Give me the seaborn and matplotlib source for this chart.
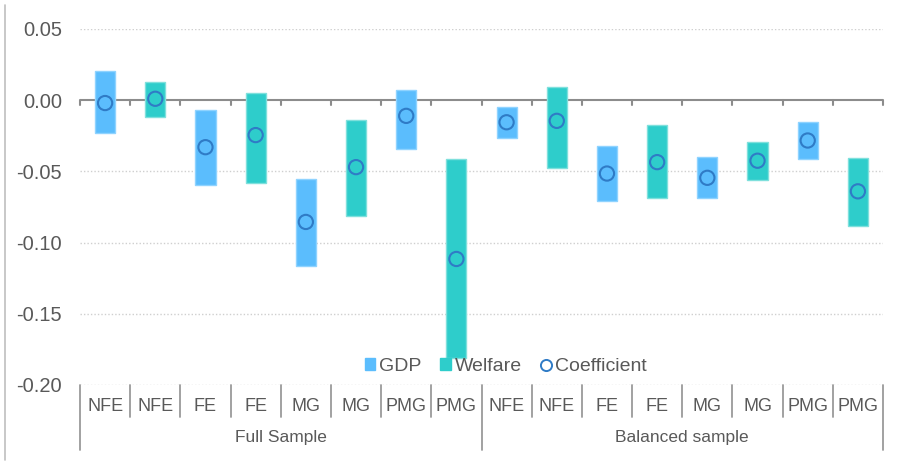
import numpy as np
import pandas as pd
import matplotlib.pyplot as plt
import matplotlib.patches as mpatches
from matplotlib.lines import Line2D
import seaborn as sns

# model labels along the axis, two groups of eight
models = ['NFE', 'NFE', 'FE', 'FE', 'MG', 'MG', 'PMG', 'PMG'] * 2
groups = ['Full Sample', 'Balanced sample']
series = ['GDP', 'Welfare'] * 8

# confidence interval bounds and point estimates
upper = [0.0204, 0.0127, -0.0070, 0.0050, -0.0550, -0.0140, 0.0070, -0.0415,
         -0.0045, 0.0090, -0.0320, -0.0177, -0.0400, -0.0293, -0.0155, -0.0408]
lower = [-0.0232, -0.0116, -0.0597, -0.0580, -0.1165, -0.0810, -0.0340, -0.1810,
         -0.0265, -0.0475, -0.0710, -0.0690, -0.0685, -0.0557, -0.0415, -0.0880]
coef = [-0.0020, 0.0010, -0.0330, -0.0245, -0.0855, -0.0470, -0.0110, -0.1115,
        -0.0155, -0.0145, -0.0515, -0.0435, -0.0545, -0.0425, -0.0283, -0.0640]

yticks = [0.05, 0.00, -0.05, -0.10, -0.15, -0.20]

colors = {'GDP': '#5BBDFD', 'Welfare': '#2ECDCB'}
edge_colors = {'GDP': '#8FD3FF', 'Welfare': '#7FE0DC'}
txt_color = '#595959'

sns.set_style('white')
plt.rcParams['font.family'] = ['Liberation Sans', 'DejaVu Sans']

df = pd.DataFrame({'x': np.arange(len(models)), 'model': models, 'series': series,
                   'upper': upper, 'lower': lower, 'coef': coef})

fig = plt.figure(figsize=(8.99, 4.62), dpi=100)
ax = fig.add_axes([80 / 899, 1 - 385 / 462, 803 / 899, (385 - 29) / 462])

# floating bars for the intervals
ax.bar(df['x'], df['upper'] - df['lower'], bottom=df['lower'], width=0.4,
       color=[colors[s] for s in df['series']],
       edgecolor=[edge_colors[s] for s in df['series']], linewidth=1, zorder=3)

# point estimates
sns.scatterplot(data=df, x='x', y='coef', ax=ax, marker='o', s=105,
                facecolor='none', edgecolor='#2F7BC6', linewidth=1.5, zorder=4,
                legend=False)

ax.set_xlim(-0.5, len(models) - 0.5)
ax.set_ylim(-0.2, 0.05)
ax.set_yticks(yticks)
ax.set_yticklabels([f'{t:.2f}' for t in yticks], fontsize=14.5, color=txt_color)
ax.tick_params(axis='y', length=0, pad=13)
ax.set_xticks([])
ax.set_xlabel('')
ax.set_ylabel('')
for s in ax.spines.values():
    s.set_visible(False)

# dotted gridlines
for t in yticks:
    if t != 0:
        ax.axhline(t, color='#CFCFCF', linestyle=(0, (1, 1.5)), linewidth=1, zorder=1)

# zero axis with downward ticks
ax.axhline(0, color='#8C8C8C', linewidth=1.5, zorder=2)
for b in np.arange(-0.5, len(models), 1.0):
    ax.plot([b, b], [0, -0.0035], color='#8C8C8C', linewidth=1.5, zorder=2,
            clip_on=False)

# multi-level category axis below the plot
trans = ax.get_xaxis_transform()
for i, m in enumerate(models):
    ax.text(i, -0.06, m, transform=trans, ha='center', va='center',
            fontsize=13, color=txt_color)
for b in np.arange(-0.5, len(models), 1.0):
    long_line = b in (-0.5, 7.5, 15.5)
    ax.plot([b, b], [0, -0.183 if long_line else -0.09], transform=trans,
            color='#9A9A9A', linewidth=1.3, clip_on=False)
for g, gname in enumerate(groups):
    ax.text(g * 8 + 3.5, -0.148, gname, transform=trans, ha='center', va='center',
            fontsize=12.5, color=txt_color)

# legend
handles = [mpatches.Patch(color=colors['GDP'], label='GDP'),
           mpatches.Patch(color=colors['Welfare'], label='Welfare'),
           Line2D([], [], marker='o', linestyle='none', markerfacecolor='none',
                  markeredgecolor='#2F7BC6', markeredgewidth=1.4, markersize=8,
                  label='Coefficient')]
leg = ax.legend(handles=handles, loc='lower center', bbox_to_anchor=(0.53, -0.005),
                ncol=3, frameon=False, fontsize=14, handlelength=0.55,
                handleheight=0.55, handletextpad=0.2, columnspacing=0.95,
                borderpad=0.1)
for t in leg.get_texts():
    t.set_color(txt_color)

# frame line at the left edge
fig.add_artist(Line2D([5 / 899, 5 / 899], [0.005, 0.99], color='#BFBFBF',
                      linewidth=1.2))

plt.savefig('out.png', dpi=100)
